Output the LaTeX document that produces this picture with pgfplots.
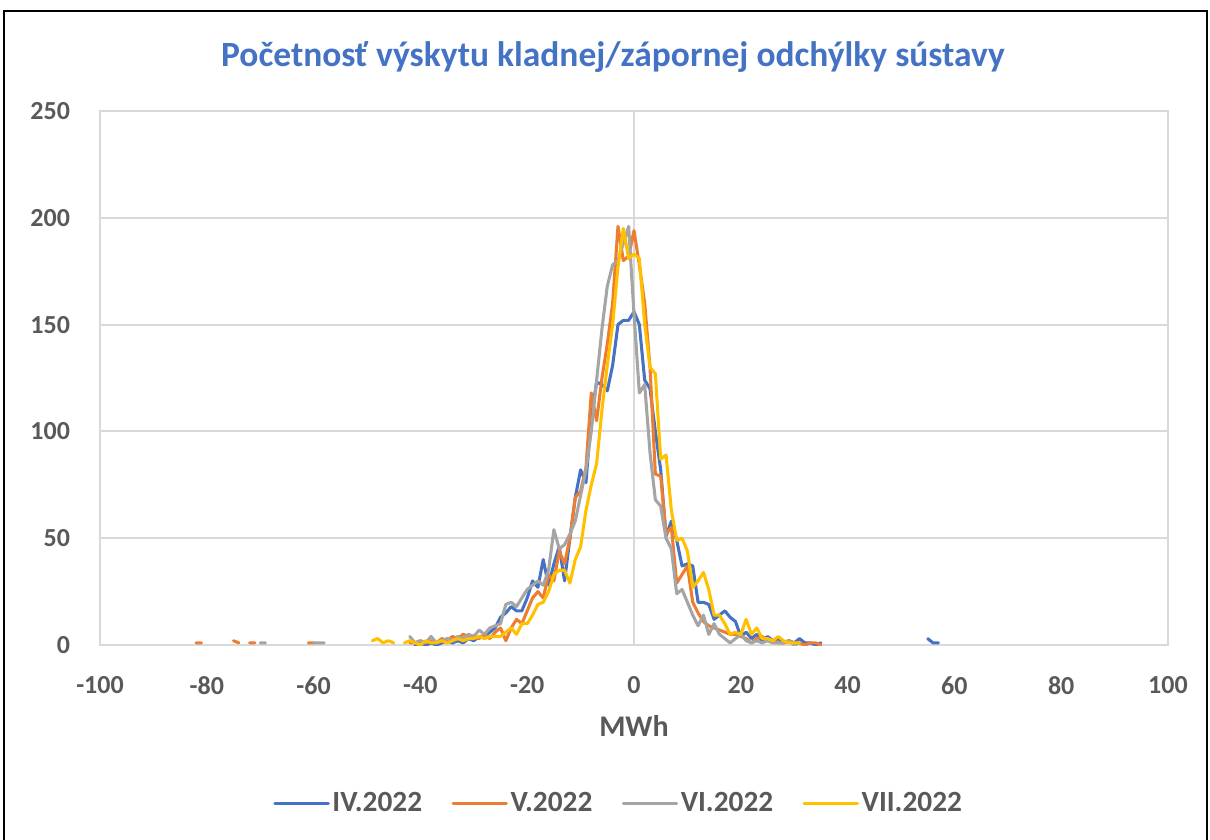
\documentclass[border=0pt]{standalone}
\usepackage{fontspec}
\setmainfont{Carlito}
\usepackage{pgfplots}
\usepackage{pgfplotstable}
\pgfplotsset{compat=1.18}
\definecolor{cBlue}{HTML}{4472C4}
\definecolor{cOrange}{HTML}{ED7D31}
\definecolor{cGray}{HTML}{A5A5A5}
\definecolor{cYellow}{HTML}{FFC000}
\definecolor{gridgray}{HTML}{D9D9D9}
\definecolor{txtgray}{HTML}{595959}

\pgfplotstableread{
x y
-41 0
-40 1
-39 0
-38 1
-37 0
-36 1
-35 2
-34 1
-33 2
-32 1
-31 3
-30 2
-29 4
-28 4
-27 6
-26 8
-25 13
-24 15
-23 18
-22 16
-21 16
-20 22
-19 30
-18 27
-17 40
-16 28
-15 38
-14 46
-13 30
-12 50
-11 69
-10 82
-9 76
-8 107
-7 123
-6 122
-5 119
-4 131
-3 150
-2 152
-1 152
0 156
1 150
2 124
3 120
4 100
5 82
6 51
7 58
8 49
9 37
10 38
11 37
12 20
13 20
14 19
15 12
16 14
17 16
18 13
19 11
20 4
21 6
22 3
23 5
24 2
25 4
26 2
27 3
28 1
29 2
30 1
31 3
32 1
33 1
34 0
35 1
36 nan
55 3
56 1
57 1
}\dataIV

\pgfplotstableread{
x y
-82 1
-81 1
-80 nan
-75 2
-74 1
-73 nan
-72 1
-71 1
-70 nan
-61 1
-60 1
-59 nan
-42 1
-41 1
-40 2
-39 1
-38 2
-37 1
-36 3
-35 2
-34 4
-33 3
-32 5
-31 4
-30 4
-29 3
-28 5
-27 3
-26 6
-25 8
-24 2
-23 8
-22 12
-21 10
-20 16
-19 22
-18 25
-17 22
-16 33
-15 30
-14 44
-13 38
-12 50
-11 69
-10 72
-9 83
-8 118
-7 105
-6 125
-5 141
-4 160
-3 196
-2 180
-1 182
0 194
1 178
2 160
3 130
4 80
5 79
6 52
7 55
8 29
9 33
10 37
11 20
12 15
13 11
14 9
15 8
16 7
17 6
18 5
19 5
20 4
21 3
22 1
23 3
24 4
25 2
26 2
27 1
28 1
29 2
30 1
31 1
32 0
33 1
34 1
35 0
}\dataV

\pgfplotstableread{
x y
-70 1
-69 1
-68 nan
-60 1
-59 1
-58 1
-57 nan
-42 4
-41 1
-40 2
-39 1
-38 4
-37 1
-36 2
-35 3
-34 2
-33 4
-32 3
-31 5
-30 4
-29 7
-28 5
-27 8
-26 9
-25 10
-24 19
-23 20
-22 18
-21 22
-20 26
-19 28
-18 30
-17 28
-16 35
-15 54
-14 45
-13 47
-12 52
-11 58
-10 70
-9 82
-8 100
-7 124
-6 148
-5 168
-4 178
-3 180
-2 188
-1 196
0 155
1 118
2 122
3 90
4 68
5 65
6 50
7 45
8 24
9 26
10 20
11 14
12 9
13 14
14 5
15 10
16 5
17 3
18 1
19 3
20 5
21 2
22 1
23 2
24 1
25 2
26 1
27 1
28 1
29 2
30 0
31 1
}\dataVI

\pgfplotstableread{
x y
-49 2
-48 3
-47 1
-46 2
-45 1
-44 nan
-43 1
-42 2
-41 1
-40 0
-39 2
-38 1
-37 1
-36 2
-35 1
-34 2
-33 3
-32 2
-31 3
-30 3
-29 4
-28 3
-27 4
-26 4
-25 4
-24 6
-23 8
-22 5
-21 10
-20 10
-19 14
-18 19
-17 20
-16 25
-15 33
-14 35
-13 35
-12 29
-11 40
-10 46
-9 63
-8 75
-7 85
-6 110
-5 131
-4 150
-3 177
-2 195
-1 181
0 183
1 181
2 150
3 130
4 127
5 87
6 89
7 63
8 49
9 50
10 44
11 27
12 30
13 34
14 26
15 14
16 14
17 10
18 5
19 6
20 5
21 12
22 5
23 8
24 3
25 3
26 2
27 4
28 2
29 1
30 1
31 1
}\dataVII

\begin{document}
\begin{tikzpicture}
\begin{scope}[x=0.75pt,y=-0.75pt]
\useasboundingbox (0,0) rectangle (1210,839);
\clip (0,0) rectangle (1210,839);
\draw[line width=1.5pt,black] (4,860) -- (4,11) -- (1207,11) -- (1207,860);
\node[font=\bfseries\fontsize{26.6}{28}\selectfont, text=cBlue] at (613,57) {Početnosť výskytu kladnej/zápornej odchýlky sústavy};
\end{scope}
\begin{axis}[
  at={(75pt,-483.75pt)}, anchor=south west,
  scale only axis, width=801pt, height=400.5pt,
  xmin=-100, xmax=100, ymin=0, ymax=250,
  xtick={-100,-80,...,100}, ytick={0,50,...,250},
  major tick length=0pt,
  axis line style={draw=gridgray, line width=1.5pt},
  ymajorgrids, grid style={gridgray, line width=1.5pt},
  extra x ticks={0}, extra x tick labels={},
  extra x tick style={grid=major},
  unbounded coords=jump,
  /pgf/number format/assume math mode=true,
  /pgf/number format/1000 sep={},
  tick label style={font=\bfseries\fontsize{19.5}{20}\selectfont, text=txtgray},
  xticklabel style={yshift=-20pt},
  yticklabel style={xshift=-19pt},
  xlabel={MWh},
  xlabel style={font=\bfseries\fontsize{22.5}{24}\selectfont, text=txtgray, yshift=-9pt},
  legend columns=4,
  legend style={at={(0.486,-0.296)}, anchor=center, draw=none, fill=none,
    font=\bfseries\fontsize{22}{24}\selectfont, text=txtgray,
    /tikz/every even column/.append style={column sep=20pt},
    nodes={inner sep=2pt}},
  legend image code/.code={\draw[#1] (0pt,0pt) -- (40pt,0pt);},
  every axis plot/.append style={line width=2.3pt, line join=round, line cap=round},
]
\addplot[cBlue] table {\dataIV};
\addlegendentry{IV.2022}
\addplot[cOrange] table {\dataV};
\addlegendentry{V.2022}
\addplot[cGray] table {\dataVI};
\addlegendentry{VI.2022}
\addplot[cYellow] table {\dataVII};
\addlegendentry{VII.2022}
\end{axis}
\end{tikzpicture}
\end{document}
